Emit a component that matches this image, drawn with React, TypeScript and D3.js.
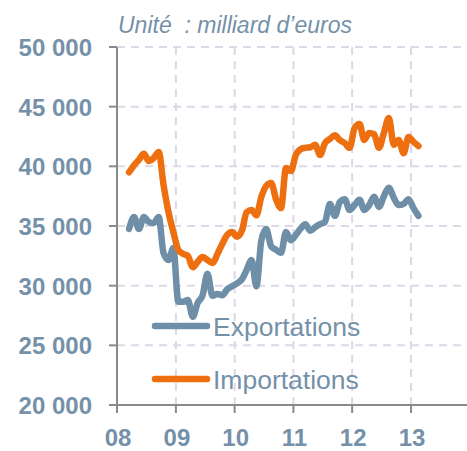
import React, { useRef, useEffect } from "react"
import * as d3 from "d3"

// monthly values, Mar 2008 -> Feb 2013
const startMonth = new Date(2008, 2, 1)
const endMonth = new Date(2013, 2, 1)

const exportations = [
  34750, 35750, 34750, 35750, 35350, 35250, 35750, 32750, 32150, 33150,
  28650, 28650, 28800, 27400, 28550, 29200, 31000, 29150, 29300, 29200, 29700, 29950,
  30200, 30550, 31300, 32150, 29950, 33800, 34750, 33300, 33000, 32750, 34500, 33800,
  34250, 34800, 35150, 34600, 34900, 35150, 35350, 36850, 35850, 37000, 37250, 36350,
  36750, 37200, 36350, 36750, 37450, 36600, 37500, 38200, 37350, 36750, 36850, 37250,
  36500, 35850
]

const importations = [
  39500, 40100, 40550, 41050, 40450, 40700, 41200, 38450, 36150, 34500,
  33000, 32650, 32500, 31550, 32000, 32400, 32150, 31900, 32650, 33500, 34250, 34500,
  34100, 34650, 36150, 36350, 35900, 37450, 38350, 38600, 37200, 36500, 39850, 39600,
  40950, 41450, 41550, 41600, 41800, 40950, 41950, 42300, 42600, 42200, 41950, 41550,
  43200, 43550, 42200, 42800, 42700, 41550, 42800, 44050, 41800, 42200, 41100, 42450,
  42050, 41700
]

const yTicks = [20000, 25000, 30000, 35000, 40000, 45000, 50000]
const yearTicks = [2008, 2009, 2010, 2011, 2012, 2013]
const gridYears = [2009, 2010, 2011, 2012, 2013, 2014]

const seriesNames = ["Exportations", "Importations"]
const colors = ["#6e8fa7", "#ee6f10"]

const textColor = "#7491a9"
const gridColor = "#ddd7e8"
const axisColor = "#8a8a8a"

export default function App() {
  const svgRef = useRef(null)

  useEffect(() => {
    const width = 467
    const svg = d3.select(svgRef.current)
    svg.selectAll("*").remove()

    const fr = d3.formatLocale({ decimal: ",", thousands: " ", grouping: [3], currency: ["", "€"] })
    const fmt = fr.format(",")

    const x = d3.scaleTime()
      .domain([new Date(2008, 0, 1), new Date(2014, 0, 1)])
      .range([117, 117 + 6 * 58.8])
    const y = d3.scaleLinear().domain([20000, 50000]).range([405, 47])

    const months = d3.timeMonth.range(startMonth, endMonth)
    const mid = (m) => d3.timeDay.offset(m, 15)

    // grid
    const grid = svg.append("g")
    grid.selectAll("line.h")
      .data(yTicks.filter(d => d > 20000))
      .enter().append("line")
      .attr("x1", 117).attr("x2", width)
      .attr("y1", d => y(d)).attr("y2", d => y(d))
      .attr("stroke", gridColor).attr("stroke-width", 2)
      .attr("stroke-dasharray", "8,6")
    grid.selectAll("line.v")
      .data(gridYears)
      .enter().append("line")
      .attr("x1", d => x(new Date(d, 0, 1))).attr("x2", d => x(new Date(d, 0, 1)))
      .attr("y1", y(50000)).attr("y2", y(20000))
      .attr("stroke", gridColor).attr("stroke-width", 2)
      .attr("stroke-dasharray", "8,6")

    // axes
    const ax = svg.append("g")
    ax.append("line")
      .attr("x1", 117).attr("x2", 117)
      .attr("y1", y(50000)).attr("y2", y(20000) + 8)
      .attr("stroke", axisColor).attr("stroke-width", 2)
    ax.append("line")
      .attr("x1", 109).attr("x2", width)
      .attr("y1", y(20000)).attr("y2", y(20000))
      .attr("stroke", axisColor).attr("stroke-width", 2)
    ax.selectAll("line.yt")
      .data(yTicks)
      .enter().append("line")
      .attr("x1", 109).attr("x2", 117)
      .attr("y1", d => y(d)).attr("y2", d => y(d))
      .attr("stroke", axisColor).attr("stroke-width", 2)
    ax.selectAll("line.xt")
      .data(yearTicks)
      .enter().append("line")
      .attr("x1", d => x(new Date(d, 0, 1))).attr("x2", d => x(new Date(d, 0, 1)))
      .attr("y1", y(20000)).attr("y2", y(20000) + 8)
      .attr("stroke", axisColor).attr("stroke-width", 2)

    ax.selectAll("text.yl")
      .data(yTicks)
      .enter().append("text")
      .attr("x", 92).attr("y", d => y(d) + 9)
      .attr("text-anchor", "end")
      .attr("font-family", "Liberation Sans, Arial, sans-serif")
      .attr("font-weight", "bold").attr("font-size", 24)
      .attr("fill", textColor)
      .text(d => fmt(d))
    ax.selectAll("text.xl")
      .data(yearTicks)
      .enter().append("text")
      .attr("x", d => x(new Date(d, 0, 1)) + 1).attr("y", 446)
      .attr("text-anchor", "middle")
      .attr("font-family", "Liberation Sans, Arial, sans-serif")
      .attr("font-weight", "bold").attr("font-size", 24)
      .attr("fill", textColor)
      .text(d => String(d % 100).padStart(2, "0"))

    // title
    svg.append("text")
      .attr("x", 118).attr("y", 33)
      .attr("font-family", "Liberation Sans, Arial, sans-serif")
      .attr("font-style", "italic").attr("font-size", 23)
      .attr("fill", textColor)
      .style("white-space", "pre")
      .text("Unité  : milliard d’euros")

    // lines
    const line = d3.line()
      .x((d, i) => x(mid(months[i])))
      .y(d => y(d))
      .curve(d3.curveMonotoneX)

    const all = [exportations, importations]
    svg.append("g").selectAll("path")
      .data(all)
      .enter().append("path")
      .attr("d", d => line(d))
      .attr("fill", "none")
      .attr("stroke", (d, i) => colors[i])
      .attr("stroke-width", 6.5)
      .attr("stroke-linejoin", "round")
      .attr("stroke-linecap", "round")

    // legend
    const legendY = [326, 379]
    const lg = svg.append("g")
    lg.selectAll("line")
      .data(seriesNames)
      .enter().append("line")
      .attr("x1", 155).attr("x2", 207)
      .attr("y1", (d, i) => legendY[i]).attr("y2", (d, i) => legendY[i])
      .attr("stroke", (d, i) => colors[i])
      .attr("stroke-width", 6.5)
      .attr("stroke-linecap", "round")
    lg.selectAll("text")
      .data(seriesNames)
      .enter().append("text")
      .attr("x", 213).attr("y", (d, i) => legendY[i] + 10)
      .attr("font-family", "Liberation Sans, Arial, sans-serif")
      .attr("font-size", 26.5)
      .attr("fill", textColor)
      .text(d => d)
  }, [])

  return (
    <svg ref={svgRef} width={467} height={451}
      style={{ position: "absolute", left: 0, top: 0, background: "#fff" }} />
  )
}
